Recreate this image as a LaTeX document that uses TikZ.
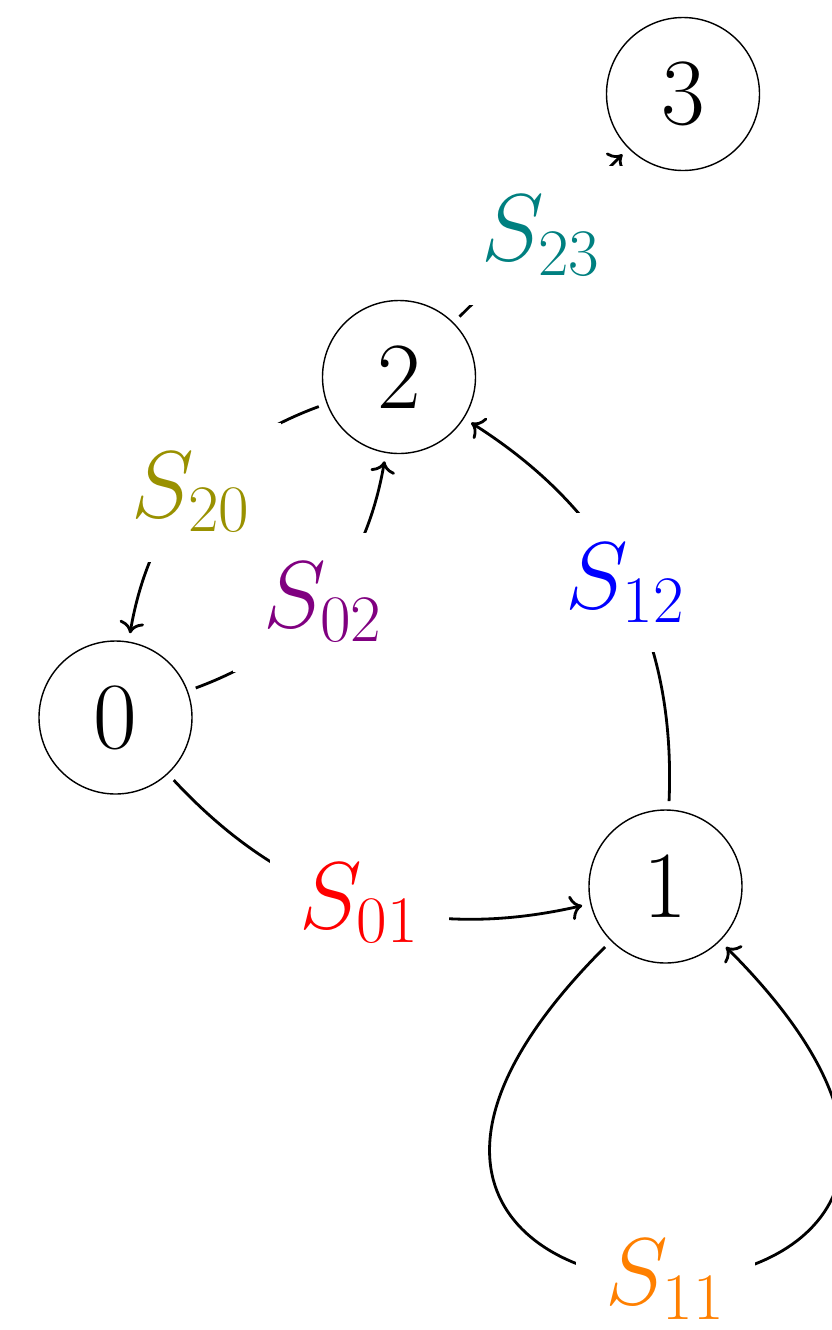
\RequirePackage{fix-cm}
\documentclass[tikz,border=0pt]{standalone}
\usepackage{tikz}
\usetikzlibrary{arrows.meta,positioning}
\definecolor{lblolive}{RGB}{153,145,0}

\begin{document}
\begin{tikzpicture}[
    state/.style={circle, draw, minimum size=1.53cm, inner sep=0pt,
                  outer sep=0.09cm, font=\fontsize{27}{32}\selectfont},
    trans/.style={->, thick},
    lbl/.style={fill=white, inner sep=0.3cm, font=\fontsize{27}{32}\selectfont}
]
\useasboundingbox (0,0) rectangle (8.32,-13.30);
\node[state] (s0) at (1.155,-7.175) {0};
\node[state] (s1) at (6.655,-8.865) {1};
\node[state] (s2) at (3.99,-3.77) {2};
\node[state] (s3) at (6.83,-0.94) {3};
\draw[trans] (s0) to[bend right] node[lbl, text=red] {$S_{01}$} (s1);
\draw[trans] (s0) to[bend right] node[lbl, text=violet] {$S_{02}$} (s2);
\draw[trans] (s2) to[bend right] node[lbl, text=lblolive] {$S_{20}$} (s0);
\draw[trans] (s1) to[bend right] node[lbl, text=blue] {$S_{12}$} (s2);
\draw[trans] (s2) -- node[lbl, text=teal] {$S_{23}$} (s3);
\draw[trans] (s1) to[out=225, in=315, looseness=13.3] node[lbl, text=orange] {$S_{11}$} (s1);
\end{tikzpicture}
\end{document}
